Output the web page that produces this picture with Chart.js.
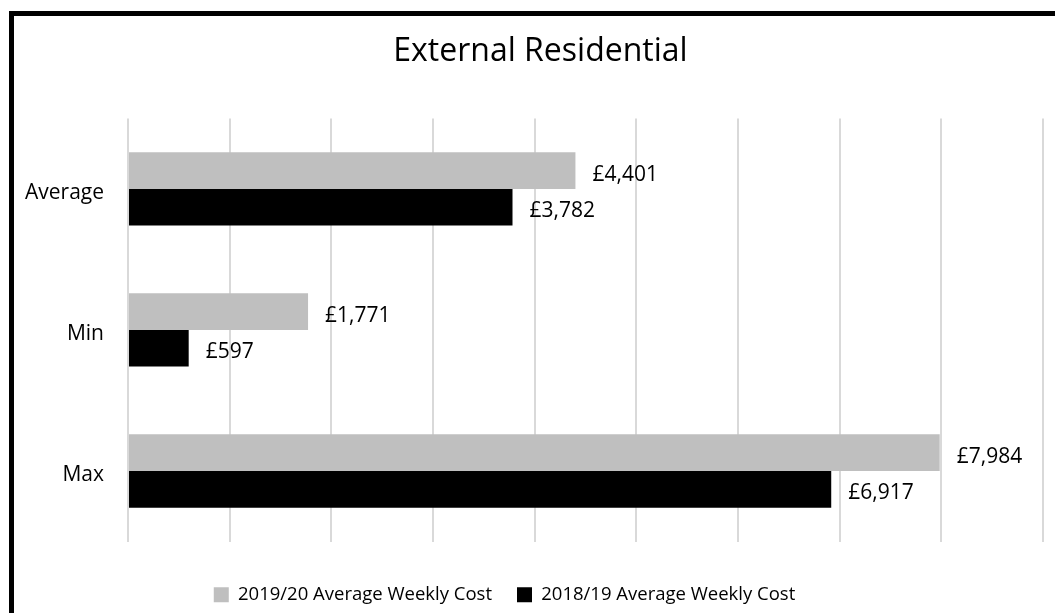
<!DOCTYPE html>
<html lang="en">
<head>
    <meta charset="UTF-8">
    <title>External Residential</title>
    <style>
        body {
            margin: 0;
            padding: 0;
            background: #fff;
            overflow: hidden;
        }
        .frame {
            position: absolute;
            left: 9px;
            top: 11px;
            width: 1100px;
            height: 650px;
            border: 5px solid #000;
            background: #fff;
        }
        canvas {
            display: block;
        }
    </style>
</head>
<body>

    <div class="frame">
        <canvas id="chart" width="1041" height="612"></canvas>
    </div>

    <script src="https://cdn.jsdelivr.net/npm/chart.js"></script>
    <script>
        // data
        const categories = ["Average", "Min", "Max"];
        const seriesNames = ["2019/20 Average Weekly Cost", "2018/19 Average Weekly Cost"];
        const cost2019 = [4401, 1771, 7984];
        const cost2018 = [3782, 597, 6917];
        const axisMax = 9000;
        const axisStep = 1000;

        const fontFamily = "'Open Sans', 'Liberation Sans', sans-serif";

        // draws the £ value just past the end of each bar
        const valueLabels = {
            id: "valueLabels",
            afterDatasetsDraw(chart) {
                let ctx = chart.ctx;
                ctx.save();
                ctx.font = "21px " + fontFamily;
                ctx.fillStyle = "#000";
                ctx.textAlign = "left";
                ctx.textBaseline = "middle";
                chart.data.datasets.forEach((ds, i) => {
                    let meta = chart.getDatasetMeta(i);
                    meta.data.forEach((bar, j) => {
                        let txt = "£" + ds.data[j].toLocaleString("en-GB");
                        ctx.fillText(txt, bar.x + 17, bar.y + 4);
                    });
                });
                ctx.restore();
            }
        };

        // the title sits a bit right of centre and the legend a bit left, like the original
        const nudgeBlocks = {
            id: "nudgeBlocks",
            afterLayout(chart) {
                if (chart.titleBlock) {
                    chart.titleBlock.left += 12;
                    chart.titleBlock.right += 12;
                }
                if (chart.legend) {
                    chart.legend.left -= 24;
                    chart.legend.right -= 24;
                }
            }
        };

        let ctx = document.getElementById("chart").getContext("2d");
        new Chart(ctx, {
            type: "bar",
            data: {
                labels: categories,
                datasets: [
                    { label: seriesNames[0], data: cost2019, backgroundColor: "#bfbfbf" },
                    { label: seriesNames[1], data: cost2018, backgroundColor: "#000000" }
                ]
            },
            options: {
                indexAxis: "y",
                responsive: false,
                animation: false,
                datasets: {
                    bar: { categoryPercentage: 0.52, barPercentage: 1.0 }
                },
                layout: { padding: { left: 0, right: 12, top: 0, bottom: 14 } },
                scales: {
                    x: {
                        min: 0,
                        max: axisMax,
                        ticks: { display: false, stepSize: axisStep },
                        grid: { color: "#d9d9d9", lineWidth: 2, drawTicks: false },
                        border: { display: false },
                        afterFit(scale) { scale.height = 19; }
                    },
                    y: {
                        ticks: { color: "#000", font: { size: 21, family: fontFamily }, padding: 16, labelOffset: 4 },
                        grid: { display: false },
                        border: { display: false },
                        afterFit(scale) { scale.width = 114; }
                    }
                },
                plugins: {
                    title: {
                        display: true,
                        text: "External Residential",
                        color: "#000",
                        font: { size: 32, family: fontFamily, weight: "normal" },
                        padding: { top: 17, bottom: 47 }
                    },
                    legend: {
                        position: "bottom",
                        labels: {
                            color: "#000",
                            font: { size: 18.5, family: fontFamily },
                            boxWidth: 15,
                            boxHeight: 15,
                            padding: 25
                        }
                    },
                    tooltip: { enabled: false }
                }
            },
            plugins: [valueLabels, nudgeBlocks]
        });
    </script>

</body>
</html>
